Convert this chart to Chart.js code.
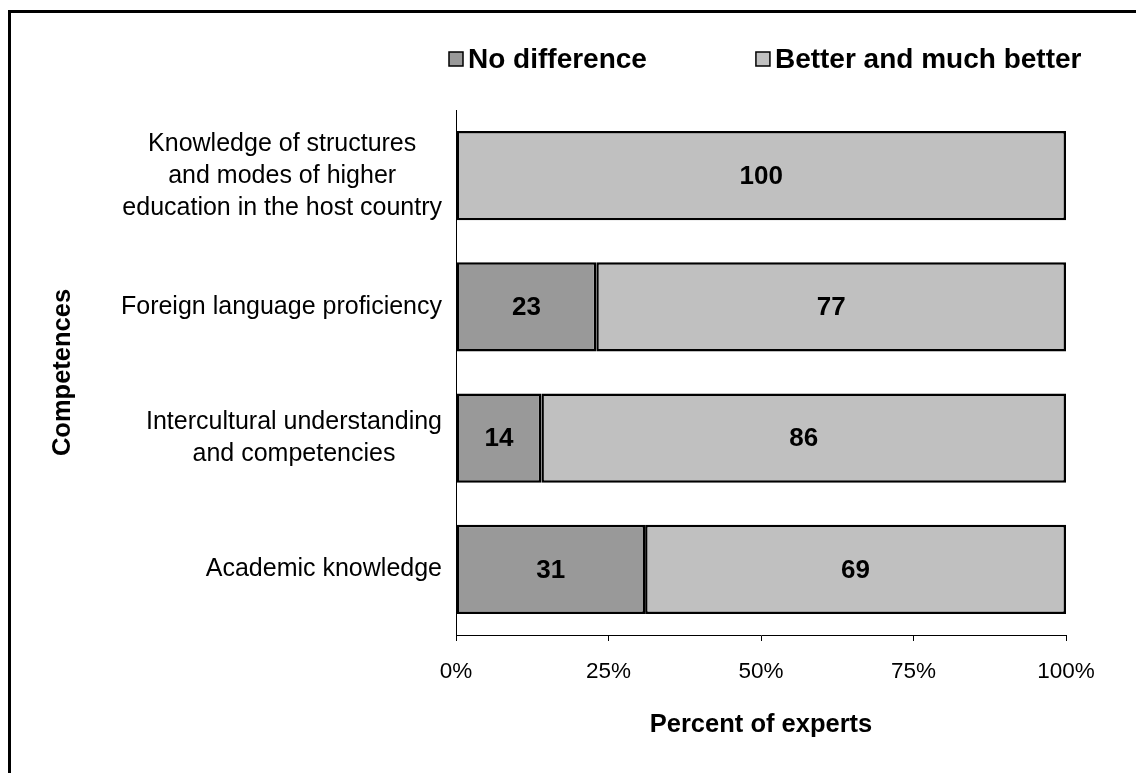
<!DOCTYPE html>
<html>
<head>
<meta charset="utf-8">
<script src="https://cdn.jsdelivr.net/npm/chart.js@4"></script>
<style>
  html, body { margin: 0; padding: 0; background: #fff; overflow: hidden; }
  #wrap { position: relative; width: 1136px; height: 773px; overflow: hidden; }
  #frame { position: absolute; left: 8px; top: 10px; right: -10px; bottom: -10px;
           border-top: 3px solid #000; border-left: 3px solid #000; }
  #chart { position: absolute; left: 0; top: 0; }
</style>
</head>
<body>
<div id="wrap">
  <div id="frame"></div>
  <canvas id="chart" width="1136" height="773"></canvas>
</div>
<script>
// Chart data
const categories = [
    ['Knowledge of structures', 'and modes of higher', 'education in the host country'],
    ['Foreign language proficiency'],
    ['Intercultural understanding', 'and competencies'],
    ['Academic knowledge']
];
const noDifference = [0, 23, 14, 31];
const betterAndMuchBetter = [100, 77, 86, 69];
const seriesNames = ['No difference', 'Better and much better'];
const seriesColors = ['#999999', '#c0c0c0'];
const xTicks = [0, 25, 50, 75, 100];

const FONT = 'Liberation Sans, Arial, sans-serif';

// Category labels: lines centred within their block, block right-aligned to the axis
const categoryLabels = {
    id: 'categoryLabels',
    afterDraw(chart) {
        const ctx = chart.ctx;
        const yScale = chart.scales.y;
        const lineGap = 32;
        ctx.save();
        ctx.font = '25px ' + FONT;
        ctx.fillStyle = '#000';
        ctx.textAlign = 'center';
        ctx.textBaseline = 'middle';
        chart.data.labels.forEach((lines, i) => {
            const blockW = Math.max(...lines.map(l => ctx.measureText(l).width));
            const cx = yScale.right - 14 - blockW / 2;
            const cy = yScale.getPixelForTick(i);
            lines.forEach((line, j) => {
                ctx.fillText(line, cx, cy + (j - (lines.length - 1) / 2) * lineGap);
            });
        });
        ctx.restore();
    }
};

// Value labels in the middle of each segment
const valueLabels = {
    id: 'valueLabels',
    afterDatasetsDraw(chart) {
        const ctx = chart.ctx;
        ctx.save();
        ctx.font = 'bold 26px ' + FONT;
        ctx.fillStyle = '#000';
        ctx.textAlign = 'center';
        ctx.textBaseline = 'middle';
        chart.data.datasets.forEach((ds, di) => {
            chart.getDatasetMeta(di).data.forEach((bar, i) => {
                const v = ds.data[i];
                if (!v) return;
                const p = bar.getProps(['x', 'y', 'base'], true);
                ctx.fillText(String(v), (p.x + p.base) / 2, p.y + 1);
            });
        });
        ctx.restore();
    }
};

// Legend row above the plot
const topLegend = {
    id: 'topLegend',
    afterDraw(chart) {
        const ctx = chart.ctx;
        const box = 14;
        const gap = 109;
        const cy = 59;
        let x = chart.chartArea.left - 7;
        ctx.save();
        ctx.font = 'bold 28px ' + FONT;
        ctx.textBaseline = 'middle';
        ctx.textAlign = 'left';
        chart.data.datasets.forEach(ds => {
            ctx.fillStyle = ds.backgroundColor;
            ctx.fillRect(x, cy - box / 2, box, box);
            ctx.strokeStyle = '#000';
            ctx.lineWidth = 1.5;
            ctx.strokeRect(x, cy - box / 2, box, box);
            ctx.fillStyle = '#000';
            ctx.fillText(ds.label, x + box + 5, cy + 1);
            x += box + 5 + ctx.measureText(ds.label).width + gap;
        });
        ctx.restore();
    }
};

const ctx = document.getElementById('chart').getContext('2d');
const chart = new Chart(ctx, {
    type: 'bar',
    data: {
        labels: categories,
        datasets: [{
            label: seriesNames[0],
            data: noDifference,
            backgroundColor: seriesColors[0],
            borderColor: '#000',
            borderWidth: 2.5,
            borderSkipped: false,
            barPercentage: 0.68,
            categoryPercentage: 1
        }, {
            label: seriesNames[1],
            data: betterAndMuchBetter,
            backgroundColor: seriesColors[1],
            borderColor: '#000',
            borderWidth: 2.5,
            borderSkipped: false,
            barPercentage: 0.68,
            categoryPercentage: 1
        }]
    },
    options: {
        indexAxis: 'y',
        responsive: false,
        animation: false,
        layout: {
            padding: { left: 40, top: 110, right: 70, bottom: 20 }
        },
        plugins: {
            legend: { display: false },
            tooltip: { enabled: false }
        },
        scales: {
            x: {
                stacked: true,
                min: 0,
                max: 100,
                afterBuildTicks: scale => {
                    scale.ticks = xTicks.map(v => ({ value: v }));
                },
                ticks: {
                    callback: v => v + '%',
                    color: '#000',
                    font: { family: FONT, size: 22.5 },
                    padding: 17,
                    maxRotation: 0
                },
                grid: {
                    drawOnChartArea: false,
                    drawTicks: true,
                    tickLength: 6,
                    color: '#000',
                    lineWidth: 1
                },
                border: { color: '#000', width: 1 },
                title: {
                    display: true,
                    text: 'Percent of experts',
                    color: '#000',
                    font: { family: FONT, size: 25.5, weight: 'bold' },
                    padding: { top: 0, bottom: 13 }
                },
                afterFit: s => { s.height = 118; }
            },
            y: {
                stacked: true,
                ticks: { display: false },
                grid: { display: false },
                border: { color: '#000', width: 1 },
                title: {
                    display: true,
                    text: 'Competences',
                    color: '#000',
                    font: { family: FONT, size: 25.5, weight: 'bold' },
                    padding: { top: 8, bottom: 0 }
                },
                afterFit: s => { s.width = 416; }
            }
        }
    },
    plugins: [categoryLabels, valueLabels, topLegend]
});
</script>
</body>
</html>
